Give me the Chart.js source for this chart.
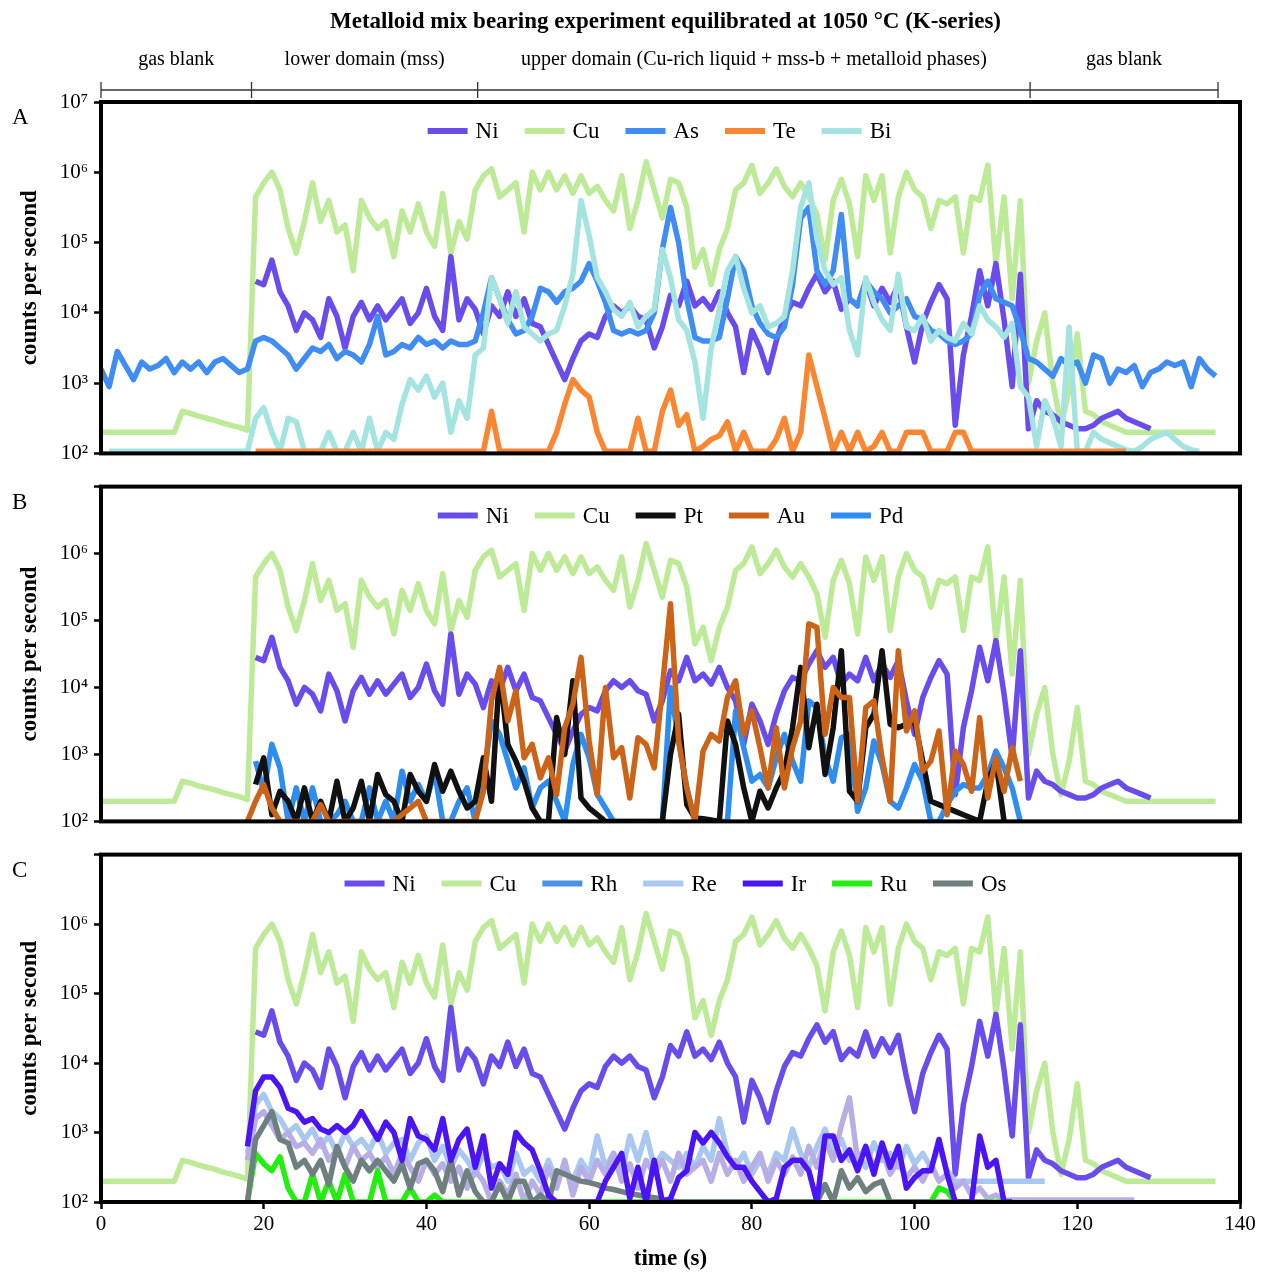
<!DOCTYPE html>
<html>
<head>
<meta charset="utf-8">
<script src="https://cdn.jsdelivr.net/npm/chart.js@4.4.1/dist/chart.umd.min.js"></script>
<style>
body { margin: 0; background: #fff; }
#wrap { position: relative; width: 1265px; height: 1273px; }
canvas { position: absolute; left: 0; }
</style>
</head>
<body>
<div id="wrap">
  <canvas id="chartA" width="1265" height="472" style="top:0px"></canvas>
  <canvas id="chartB" width="1265" height="372" style="top:468px"></canvas>
  <canvas id="chartC" width="1265" height="437" style="top:836px"></canvas>
</div>
<script>
// axis labels
var timeTicks = [0, 20, 40, 60, 80, 100, 120, 140];
var decadeValues = [1e2, 1e3, 1e4, 1e5, 1e6, 1e7];
var decadeLabels = ['10²', '10³', '10⁴', '10⁵', '10⁶', '10⁷'];
var domainEdges = [0, 18.5, 46.3, 114.2, 137.3];
var domainNames = ['gas blank', 'lower domain (mss)', 'upper domain (Cu-rich liquid + mss-b + metalloid phases)', 'gas blank'];

// counts per second, kept as log10 values, one value per second from the start time
var cuStart = 0;
var cuLog = [2.3,2.3,2.3,2.3,2.3,2.3,2.3,2.3,2.3,2.3,
  2.6,2.57,2.53,2.5,2.47,2.43,2.4,2.37,2.33,5.65,
  5.85,6.0,5.75,5.2,4.85,5.3,5.85,5.3,5.6,5.15,
  5.25,4.6,5.6,5.35,5.2,5.3,4.8,5.45,5.15,5.55,
  5.15,4.95,5.7,4.85,5.3,5.05,5.75,5.95,6.05,5.65,
  5.75,5.85,5.15,6.0,5.75,6.0,5.75,5.95,5.7,5.95,
  5.7,5.8,5.6,5.45,5.95,5.2,5.6,6.15,5.75,5.35,
  5.9,5.85,5.5,4.65,4.9,4.4,4.9,5.2,5.75,5.85,
  6.1,5.7,5.85,6.05,5.8,5.65,5.85,5.65,5.4,4.75,
  5.6,5.9,5.55,4.8,5.95,5.6,5.95,4.85,5.65,6.0,
  5.75,5.65,5.2,5.6,5.55,5.65,4.85,5.65,5.6,6.1,
  4.7,5.65,4.2,5.6,3.0,3.6,4.0,3.0,2.4,2.9,
  3.7,2.6,2.55,2.45,2.4,2.35,2.3,2.3,2.3,2.3,
  2.3,2.3,2.3,2.3,2.3,2.3,2.3,2.3];

var niStart = 19;
var niLog = [4.45,
  4.4,4.75,4.3,4.1,3.75,4.0,3.9,3.65,4.2,3.95,
  3.5,3.95,4.15,3.9,4.1,3.9,4.05,4.2,3.85,4.0,
  4.35,3.95,3.75,4.8,3.9,4.2,4.05,3.7,4.1,3.95,
  4.3,3.95,4.2,3.85,3.8,3.55,3.3,3.05,3.35,3.6,
  3.7,3.65,3.95,4.1,4.0,4.1,3.95,3.9,3.5,3.8,
  4.25,4.1,4.45,4.1,4.2,4.05,4.3,4.0,3.8,3.15,
  3.75,3.5,3.15,3.6,3.95,4.15,4.1,4.35,4.55,4.3,
  4.45,4.05,4.2,4.1,4.45,4.1,4.35,4.15,4.4,3.8,
  3.3,3.85,4.15,4.4,4.2,2.4,3.4,3.95,4.6,4.1,
  4.7,3.9,2.95,4.55,2.35,2.75,2.6,2.55,2.45,2.4,
  2.35,2.35,2.4,2.5,2.55,2.6,2.5,2.45,2.4,2.35];

var asStart = 0;
var asLog = [3.2,2.95,3.45,3.25,3.05,3.3,3.2,3.25,3.35,3.15,
  3.3,3.2,3.3,3.15,3.3,3.35,3.25,3.15,3.2,3.6,
  3.65,3.6,3.5,3.4,3.2,3.35,3.5,3.45,3.55,3.35,
  3.45,3.4,3.3,3.55,3.95,3.4,3.45,3.55,3.5,3.65,
  3.55,3.6,3.5,3.6,3.55,3.55,3.6,4.0,4.5,4.2,
  3.9,3.7,3.75,3.95,4.35,4.3,4.15,4.3,4.35,4.45,
  4.7,4.45,4.15,3.75,3.7,3.75,3.7,3.75,4.0,4.9,
  5.5,5.0,4.2,3.65,3.6,3.6,3.65,4.2,4.8,4.6,
  4.1,3.85,3.7,3.65,3.8,4.4,5.35,5.5,4.6,4.4,
  4.6,5.4,4.2,4.1,4.45,4.3,4.2,4.0,4.1,4.2,
  3.95,3.9,3.75,3.7,3.6,3.55,3.6,3.7,4.25,4.45,
  4.2,4.15,4.1,3.75,3.35,3.3,3.2,3.1,3.35,3.25,
  3.3,3.0,3.4,3.35,3.0,3.2,3.15,3.25,2.95,3.15,
  3.2,3.3,3.25,3.3,2.95,3.35,3.2,3.1];

var teStart = 19;
var teLog = [2.03,
  2.03,2.03,2.03,2.03,2.03,2.03,2.03,2.03,2.03,2.03,
  2.03,2.03,2.03,2.03,2.03,2.03,2.03,2.03,2.03,2.03,
  2.03,2.03,2.03,2.03,2.03,2.03,2.03,2.03,2.6,2.03,
  2.03,2.03,2.03,2.03,2.03,2.03,2.3,2.7,3.05,2.9,
  2.8,2.3,2.03,2.03,2.03,2.03,2.5,2.03,2.03,2.6,
  2.9,2.4,2.55,2.03,2.1,2.2,2.25,2.45,2.03,2.3,
  2.03,2.03,2.03,2.2,2.5,2.03,2.3,3.4,2.95,2.5,
  2.03,2.3,2.03,2.3,2.03,2.1,2.3,2.03,2.03,2.3,
  2.3,2.3,2.03,2.03,2.03,2.3,2.3,2.03,2.03,2.03,
  2.03,2.03,2.03,2.03,2.03,2.03,2.03,2.03,2.03,2.03,
  2.03,2.03,2.03,2.03,2.03,2.03,2.03];

var biStart = 1;
var biLog = [2.03,2.03,2.03,2.03,2.03,2.03,2.03,2.03,2.03,
  2.03,2.03,2.03,2.03,2.03,2.03,2.03,2.03,2.03,2.5,
  2.65,2.3,2.03,2.5,2.45,2.03,2.03,2.03,2.3,2.03,
  2.03,2.3,2.03,2.5,2.03,2.3,2.2,2.7,3.05,2.9,
  3.1,2.8,3.0,2.3,2.75,2.5,3.4,3.5,4.5,4.2,
  3.85,4.3,3.8,3.7,3.6,3.7,3.75,4.1,4.55,5.6,
  5.1,4.5,4.3,4.05,3.95,4.15,3.8,3.95,4.05,4.9,
  4.5,3.9,3.75,3.3,2.5,3.5,4.05,4.6,4.8,4.35,
  4.0,4.1,3.8,3.85,3.95,4.6,5.5,5.85,5.05,4.6,
  4.4,4.5,3.75,3.4,4.5,4.15,3.9,3.75,4.55,3.8,
  3.75,3.95,3.6,3.75,3.65,3.6,3.85,3.7,4.1,3.9,
  3.8,3.65,3.85,2.95,2.8,2.1,2.75,2.5,2.1,3.8,
  2.03,2.03,2.3,2.2,2.15,2.1,2.05,2.03,2.1,2.2,
  2.25,2.3,2.2,2.1,2.05,2.03];

var ptStart = 19;
var ptLog = [2.55,
  2.95,2.1,2.45,2.3,2.0,2.5,2.0,2.3,2.0,2.6,
  2.0,2.2,2.6,2.0,2.7,2.4,2.3,2.0,2.7,2.45,
  2.3,2.85,2.45,2.75,2.45,2.2,2.3,2.95,2.3,4.25,
  3.15,2.9,2.6,2.2,2.0,2.0,3.55,3.0,4.1,2.35,
  2.2,2.1,2.0,2.0,2.0,2.0,2.0,2.0,2.0,2.0,
  3.0,3.6,2.25,2.05,2.04,2.02,2.0,3.5,3.15,2.5,
  2.0,2.45,2.2,2.5,2.75,3.4,4.3,3.1,3.75,2.7,
  3.4,4.55,2.45,2.3,3.4,3.6,4.55,3.45,3.4,3.45,
  3.5,2.9,2.3,2.25,2.2,2.15,2.1,2.05,2.0,2.6,
  2.9,2.0];

var auStart = 18;
var auLog = [2.0,2.3,
  2.55,2.2,2.0,2.0,2.0,2.0,2.0,2.25,2.0,2.0,
  2.0,2.0,2.0,2.0,2.0,2.0,2.0,2.1,2.2,2.3,
  2.0,2.0,2.0,2.0,2.0,2.0,2.0,2.45,3.8,4.3,
  3.5,3.95,2.95,3.15,2.65,2.95,2.4,3.4,3.75,4.45,
  3.2,2.4,4.0,2.95,3.1,2.35,3.25,3.15,2.8,4.0,
  5.25,3.2,2.5,2.0,3.05,3.3,3.2,3.85,4.1,3.3,
  3.65,3.1,2.5,3.4,2.5,3.1,3.5,4.95,4.9,3.3,
  4.0,3.85,3.85,2.3,3.7,3.8,2.95,2.3,4.55,3.35,
  3.65,2.75,2.9,3.35,2.1,3.05,2.85,2.45,3.55,2.35,
  2.95,2.45,3.1,2.6];

var pdStart = 19;
var pdLog = [2.9,
  2.45,3.15,2.8,2.0,2.5,2.0,2.5,2.0,2.0,2.1,
  2.3,2.0,2.0,2.5,2.0,2.3,2.0,2.75,2.3,2.55,
  2.3,2.75,2.0,2.0,2.3,2.5,2.0,2.65,3.5,3.3,
  2.9,2.5,2.8,2.2,2.5,2.6,2.3,2.0,2.85,3.3,
  2.95,2.4,2.2,2.0,2.0,2.0,2.0,2.0,2.0,2.0,
  4.0,3.2,2.5,2.0,2.0,2.0,2.0,2.0,3.65,3.1,
  2.6,2.7,2.5,2.95,3.3,2.9,2.6,3.8,3.7,2.95,
  2.6,3.25,3.3,2.15,2.5,3.2,2.85,2.3,2.2,2.5,
  2.85,2.6,2.0,2.0,2.25,2.45,2.55,2.5,2.5,2.7,
  3.05,2.8,2.5,2.0];

var irStart = 18;
var irLog = [2.8,3.6,
  3.8,3.8,3.65,3.35,3.3,3.15,3.2,3.05,3.0,3.1,
  3.0,3.1,3.3,3.1,2.9,3.15,3.0,2.6,3.2,2.95,
  2.9,2.75,3.2,2.6,2.9,3.05,2.5,2.95,2.2,2.55,
  2.4,3.0,2.85,2.75,2.45,2.1,2.0,2.0,2.0,2.0,
  2.0,2.0,2.3,2.5,2.7,2.05,2.5,2.0,2.6,2.0,
  2.05,2.35,2.45,3.0,2.85,3.0,2.85,2.65,2.5,2.5,
  2.3,2.15,2.0,2.05,2.5,2.6,2.6,2.45,2.0,2.95,
  2.95,2.6,2.75,2.45,2.8,2.4,2.85,2.5,2.8,2.2,
  2.35,2.45,2.45,2.9,2.4,2.0,2.0,2.0,2.95,2.5,
  2.6,2.0,2.0];

var reStart = 18;
var reLog = [2.7,3.4,
  3.55,3.3,3.2,3.0,3.1,2.9,3.05,2.8,2.95,2.7,
  3.0,2.8,2.9,2.75,3.0,2.7,2.85,2.9,2.6,2.85,
  2.95,2.6,2.8,2.5,2.75,2.6,2.4,2.7,2.5,2.55,
  2.3,2.7,2.4,2.5,2.3,2.6,2.3,2.5,2.3,2.6,
  2.4,2.95,2.5,2.7,2.4,2.95,2.6,3.0,2.5,2.7,
  2.6,2.5,2.7,2.5,2.8,2.6,3.2,2.7,2.5,2.7,
  2.4,2.6,2.4,2.7,2.6,3.05,2.7,2.5,2.8,3.05,
  2.7,2.9,2.6,2.7,2.5,2.85,2.6,2.7,2.5,2.8,
  2.55,2.7,2.5,2.8,2.45,2.3,2.3,2.3,2.3,2.3,
  2.3,2.3,2.3,2.3,2.3,2.3,2.3];

var rhStart = 18;
var rhLog = [2.6,3.2,
  3.3,3.1,2.9,3.0,2.8,2.85,2.7,2.9,2.6,2.75,
  2.5,2.8,2.6,2.7,2.5,2.65,2.4,2.7,2.5,2.3,
  2.6,2.4,2.55,2.3,2.5,2.2,2.45,2.3,2.0,2.3,
  2.1,2.4,2.0,2.3,2.1,2.5,2.2,2.6,2.1,2.5,
  2.3,2.6,2.4,2.7,2.3,2.55,2.2,2.6,2.4,2.6,
  2.3,2.7,2.4,2.5,2.6,2.3,2.7,2.4,2.6,2.3,
  2.5,2.7,2.3,2.6,2.4,2.65,2.4,2.8,2.5,2.9,
  2.6,3.1,3.5,2.6,2.8,2.5,2.75,2.4,2.6,2.35,
  2.5,2.3,2.55,2.3,2.4,2.2,2.3,2.1,2.2,2.05,
  2.1,2.03,2.03,2.03,2.03,2.03,2.03,2.03,2.03,2.03,
  2.03,2.03,2.03,2.03,2.03,2.03,2.03,2.03];

var ruStart = 18;
var ruLog = [2.0,2.7,
  2.55,2.45,2.65,2.2,2.0,2.0,2.4,2.0,2.3,2.0,
  2.4,2.0,2.0,2.0,2.45,2.0,2.0,2.0,2.2,2.0,
  2.0,2.1,2.0,2.0,2.0,2.0,2.0,2.0,2.0,2.0,
  2.0,2.0,2.0,2.0,2.0,2.0,2.0,2.0,2.0,2.0,
  2.0,2.0,2.0,2.0,2.0,2.0,2.0,2.0,2.0,2.0,
  2.0,2.0,2.0,2.0,2.0,2.0,2.0,2.0,2.0,2.0,
  2.0,2.0,2.0,2.0,2.0,2.0,2.0,2.0,2.0,2.25,
  2.0,2.0,2.0,2.0,2.0,2.0,2.0,2.0,2.0,2.0,
  2.0,2.0,2.0,2.2,2.15,2.0,2.0,2.0,2.0,2.0,
  2.0,2.0,2.0];

var osStart = 18;
var osLog = [2.0,2.9,
  3.1,3.3,2.9,2.85,2.5,2.6,2.4,2.6,2.25,2.8,
  2.5,2.3,2.6,2.45,2.6,2.45,2.3,2.55,2.2,2.55,
  2.6,2.45,2.15,2.6,2.1,2.45,2.15,2.0,2.0,2.25,
  2.0,2.3,2.3,2.0,2.1,2.0,2.45,2.4,2.35,2.3,
  2.28,2.25,2.2,2.18,2.15,2.12,2.1,2.08,2.06,2.04,
  2.02,2.0,2.0,2.0,2.0,2.0,2.0,2.0,2.0,2.0,
  2.0,2.0,2.0,2.0,2.0,2.0,2.0,2.0,2.0,2.25,
  2.0,2.45,2.2,2.35,2.15,2.25,2.3,2.0,2.0,2.0,
  2.0,2.0,2.0,2.0,2.0,2.0,2.0,2.0,2.0,2.0];

var SERIF = '"Liberation Serif", "Times New Roman", serif';

function series(start, logs) {
  return logs.map(function (v, i) { return { x: start + i, y: Math.pow(10, v) }; });
}

function line(label, color, start, logs, order, legendColor) {
  return {
    label: label, data: series(start, logs),
    borderColor: color, backgroundColor: color, legendColor: legendColor,
    borderWidth: 5.5, order: order, pointRadius: 0, tension: 0, fill: false,
    borderJoinStyle: 'round'
  };
}

// thick frame + panel letter
var framePlugin = {
  id: 'frame',
  afterDatasetsDraw: function (chart, args, opts) {
    var ctx = chart.ctx, a = chart.chartArea;
    ctx.save();
    ctx.lineWidth = 4;
    ctx.strokeStyle = '#000';
    ctx.strokeRect(a.left, a.top, a.right - a.left, a.bottom - a.top);
    ctx.fillStyle = '#000';
    ctx.font = '23px ' + SERIF;
    ctx.textAlign = 'left';
    ctx.textBaseline = 'middle';
    ctx.fillText(opts.letter, 12, a.top + 16);
    ctx.restore();
  }
};

// horizontal key inside the top of each panel
var keyPlugin = {
  id: 'key',
  afterDatasetsDraw: function (chart, args, opts) {
    var ctx = chart.ctx, a = chart.chartArea;
    var lineLen = 40, gap = 8, space = 26;
    ctx.save();
    ctx.font = '23px ' + SERIF;
    var items = chart.data.datasets.map(function (ds) {
      return { text: ds.label, color: ds.legendColor || ds.borderColor, w: ctx.measureText(ds.label).width };
    });
    var total = space * (items.length - 1);
    items.forEach(function (it) { total += lineLen + gap + it.w; });
    var x = (a.left + a.right) / 2 + (opts.shift || 0) - total / 2;
    var y = a.top + 29;
    ctx.textAlign = 'left';
    ctx.textBaseline = 'middle';
    items.forEach(function (it) {
      ctx.strokeStyle = it.color;
      ctx.lineWidth = 6;
      ctx.beginPath();
      ctx.moveTo(x, y);
      ctx.lineTo(x + lineLen, y);
      ctx.stroke();
      ctx.fillStyle = '#000';
      ctx.fillText(it.text, x + lineLen + gap, y + 1);
      x += lineLen + gap + it.w + space;
    });
    ctx.restore();
  }
};

// title, domain names and bracket above panel A
var headerPlugin = {
  id: 'header',
  afterDraw: function (chart) {
    var ctx = chart.ctx, x = chart.scales.x, a = chart.chartArea;
    ctx.save();
    ctx.fillStyle = '#000';
    ctx.textAlign = 'center';
    ctx.textBaseline = 'middle';
    ctx.font = 'bold 23px ' + SERIF;
    ctx.fillText('Metalloid mix bearing experiment equilibrated at 1050 °C (K-series)', (a.left + a.right) / 2 - 5, 22);
    ctx.font = '20px ' + SERIF;
    for (var i = 0; i < domainNames.length; i++) {
      var cx = (x.getPixelForValue(domainEdges[i]) + x.getPixelForValue(domainEdges[i + 1])) / 2;
      ctx.fillText(domainNames[i], cx, 60);
    }
    ctx.strokeStyle = '#333';
    ctx.lineWidth = 1.3;
    ctx.beginPath();
    ctx.moveTo(x.getPixelForValue(domainEdges[0]), 90);
    ctx.lineTo(x.getPixelForValue(domainEdges[domainEdges.length - 1]), 90);
    domainEdges.forEach(function (t) {
      var px = x.getPixelForValue(t);
      ctx.moveTo(px, 82);
      ctx.lineTo(px, 98);
    });
    ctx.stroke();
    ctx.restore();
  }
};

function makePanel(id, letter, datasets, cfg) {
  var xScale = { type: 'linear', min: 0, max: 140, display: false };
  if (cfg.showX) {
    xScale = {
      type: 'linear', min: 0, max: 140,
      afterBuildTicks: function (s) { s.ticks = timeTicks.map(function (v) { return { value: v }; }); },
      ticks: { color: '#000', font: { family: SERIF, size: 21 }, padding: 3, maxRotation: 0 },
      grid: { drawOnChartArea: false, tickLength: 7, tickWidth: 2.5, color: '#000' },
      border: { display: false },
      title: { display: true, text: 'time (s)', color: '#000', font: { family: SERIF, size: 23, weight: 'bold' }, padding: { top: 0, bottom: 0 } },
      afterFit: function (s) { s.height = 71; }
    };
  }
  var plugins = [framePlugin, keyPlugin];
  if (cfg.header) plugins.push(headerPlugin);
  return new Chart(document.getElementById(id), {
    type: 'line',
    data: { datasets: datasets },
    options: {
      responsive: false,
      animation: false,
      devicePixelRatio: 1,
      layout: { padding: { top: cfg.padTop, right: 25, bottom: cfg.padBottom, left: 0 } },
      plugins: {
        legend: { display: false },
        tooltip: { enabled: false },
        frame: { letter: letter },
        key: { shift: cfg.keyShift }
      },
      scales: {
        x: xScale,
        y: {
          type: 'logarithmic', min: 1e2, max: 1e7,
          afterBuildTicks: function (s) { s.ticks = decadeValues.map(function (v) { return { value: v }; }); },
          ticks: {
            color: '#000', font: { family: SERIF, size: 21 }, padding: 6,
            callback: function (v, i) { return (i === 5 && !cfg.showTop) ? '' : decadeLabels[i]; }
          },
          grid: { drawOnChartArea: false, tickLength: 7, tickWidth: 2.5, color: '#000' },
          border: { display: false },
          title: { display: true, text: 'counts per second', color: '#000', font: { family: SERIF, size: 23, weight: 'bold' }, padding: { top: 16, bottom: 0 } },
          afterFit: function (s) { s.width = 101; }
        }
      }
    },
    plugins: plugins
  });
}

var NI = '#6a4ced', CU = '#bdea96', AS = '#3f8cf2', TE = '#fb8632', BI = '#a3e3e0';
var PT = '#111111', AU = '#cb6418', PD = '#2e8df0';
var RH = '#b8aee6', RH_KEY = '#4a92e8', RE = '#a9c8ef', IR = '#4b14f4', RU = '#22ee10', OS = '#6d7f7f';

makePanel('chartA', 'A', [
  line('Ni', NI, niStart, niLog, 3),
  line('Cu', CU, cuStart, cuLog, 4),
  line('As', AS, asStart, asLog, 2),
  line('Te', TE, teStart, teLog, 0),
  line('Bi', BI, biStart, biLog, 1)
], { padTop: 102, padBottom: 2, showX: false, showTop: true, header: true, keyShift: -11 });

makePanel('chartB', 'B', [
  line('Ni', NI, niStart, niLog, 3),
  line('Cu', CU, cuStart, cuLog, 4),
  line('Pt', PT, ptStart, ptLog, 1),
  line('Au', AU, auStart, auLog, 0),
  line('Pd', PD, pdStart, pdLog, 2)
], { padTop: 2, padBottom: 2, showX: false, showTop: false, keyShift: 0 });

makePanel('chartC', 'C', [
  line('Ni', NI, niStart, niLog, 5),
  line('Cu', CU, cuStart, cuLog, 6),
  line('Rh', RH, rhStart, rhLog, 3, RH_KEY),
  line('Re', RE, reStart, reLog, 4),
  line('Ir', IR, irStart, irLog, 0),
  line('Ru', RU, ruStart, ruLog, 2),
  line('Os', OS, osStart, osLog, 1)
], { padTop: 2, padBottom: 0, showX: true, showTop: false, keyShift: 5 });
</script>
</body>
</html>
